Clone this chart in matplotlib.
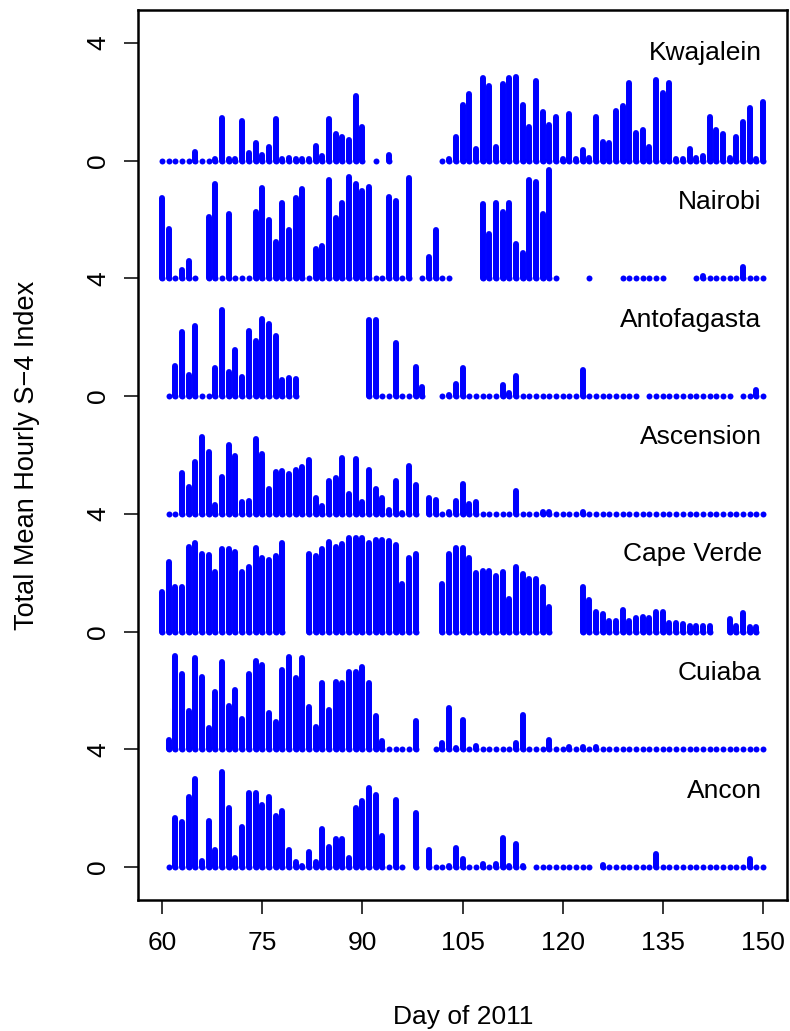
import numpy as np
import matplotlib
matplotlib.use("Agg")
import matplotlib.pyplot as plt

plt.rcParams['font.family'] = ['Liberation Sans', 'DejaVu Sans']

nan = np.nan
days = np.arange(60, 151)

# mean hourly S4 index per day, one list per station (nan = no data)
kwajalein = [0, 0, 0, 0, 0, 0.3, 0, 0, 0.05, 1.45,
             0.05, 0.05, 1.35, 0.25, 0.6, 0.2, 0.48, 1.4, 0.05, 0.1,
             0.05, 0.05, 0.05, 0.5, 0.15, 1.4, 0.9, 0.8, 0.7, 2.2,
             1.15, nan, 0, nan, 0.2, nan, nan, nan, nan, nan,
             nan, nan, 0, 0.05, 0.8, 1.9, 2.25, 0.4, 2.8, 2.55,
             0.45, 2.6, 2.8, 2.85, 1.9, 1.15, 2.7, 1.65, 1.2, 1.5,
             0.05, 1.6, 0.05, 0.35, 0.1, 1.5, 0.65, 0.6, 1.7, 1.85,
             2.65, 0.95, 1.05, 0.45, 2.75, 2.3, 2.65, 0.05, 0.05, 0.4,
             0.1, 0.15, 1.5, 1.05, 0.9, 0.1, 0.8, 1.3, 1.8, 0.05,
             2.0]
nairobi = [2.73, 1.68, 0, 0.29, 0.6, 0, nan, 2.1, 3.2, 0,
           2.2, 0, 0, 0, 2.25, 3.07, 2.0, 1.25, 2.55, 1.65,
           2.73, 3.03, 0, 1.0, 1.1, 3.33, 2.05, 2.57, 3.46, 3.21,
           2.98, 3.1, 0, 0, 2.75, 2.64, 0, 3.42, nan, 0,
           0.74, 1.66, 0, 0, nan, nan, nan, nan, 2.53, 1.52,
           2.55, 2.27, 2.55, 1.18, 0.88, 3.33, 3.26, 2.18, 3.67, 0,
           nan, nan, nan, nan, 0, nan, nan, nan, nan, 0,
           0, 0, 0, 0, 0, 0, nan, nan, nan, nan,
           0, 0.08, 0, 0, 0, 0, 0, 0.4, 0, 0,
           0]
antofagasta = [nan, 0, 1.02, 2.17, 0.71, 2.39, 0, 0, 0.95, 2.92,
               0.83, 1.57, 0.64, 2.2, 1.86, 2.63, 2.44, 2.05, 0.56, 0.61,
               0.59, nan, nan, nan, nan, nan, nan, nan, nan, nan,
               nan, 2.6, 2.6, 0, 0, 1.81, 0, 0, 1.0, 0.3,
               nan, nan, 0, 0.05, 0.4, 0.97, 0, 0, 0, 0,
               0, 0.37, 0.1, 0.68, 0, 0, 0, 0, 0, 0,
               0, 0, 0, 0.9, 0, 0, 0, 0, 0, 0,
               0, 0, nan, 0, 0, 0, 0, 0, 0, 0,
               0, 0, 0, 0, 0, 0, nan, 0, 0, 0.2,
               0]
ascension = [nan, 0, 0, 1.38, 0.92, 1.77, 2.6, 2.11, 0.3, 1.24,
             2.34, 1.95, 0.39, 0.44, 2.55, 2.02, 0.83, 1.43, 1.45, 1.36,
             1.49, 1.6, 1.82, 0.53, 0.28, 1.13, 1.22, 1.91, 0.69, 1.86,
             0.41, 1.49, 0.83, 0.53, 0.14, 1.13, 0.02, 1.63, 0.97, nan,
             0.53, 0.48, 0, 0.05, 0.44, 1.03, 0.34, 0.39, 0, 0,
             0, 0, 0, 0.76, 0, 0, 0, 0.05, 0.05, 0,
             0, 0, 0, 0.05, 0, 0, 0, 0, 0, 0,
             0, 0, 0, 0, 0, 0, 0, 0, 0, 0,
             0, 0, 0, 0, 0, 0, 0, 0, 0, 0,
             0]
cape_verde = [1.34, 2.35, 1.5, 1.5, 2.88, 3.0, 2.65, 2.6, 2.02, 2.79,
              2.79, 2.72, 2.02, 2.18, 2.84, 2.49, 2.44, 2.58, 3.0, nan,
              nan, nan, 2.65, 2.56, 2.79, 3.05, 2.86, 2.98, 3.19, 3.19,
              3.19, 3.02, 3.12, 3.12, 3.07, 2.93, 1.62, 2.51, 2.65, nan,
              nan, nan, 1.6, 2.65, 2.84, 2.84, 2.49, 2.0, 2.07, 2.07,
              1.9, 2.02, 1.11, 2.18, 1.97, 1.79, 1.79, 1.53, 0.83, nan,
              nan, nan, nan, 1.53, 1.08, 0.66, 0.6, 0.36, 0.36, 0.73,
              0.36, 0.46, 0.5, 0.46, 0.66, 0.66, 0.3, 0.3, 0.27, 0.2,
              0.2, 0.2, 0.2, nan, nan, 0.43, 0.2, 0.64, 0.15, 0.15,
              nan]
cuiaba = [nan, 0.3, 3.16, 2.57, 1.29, 3.09, 2.46, 0.73, 1.94, 2.95,
          1.47, 2.03, 1.03, 2.57, 2.99, 2.85, 1.25, 0.94, 2.71, 3.13,
          2.43, 3.11, 1.45, 0.75, 2.27, 1.33, 2.29, 2.25, 2.62, 2.62,
          2.78, 2.27, 1.12, 0.28, 0, 0, 0, 0, 0.96, nan,
          nan, 0, 0.23, 1.4, 0.05, 1.0, 0, 0.1, 0, 0,
          0, 0, 0, 0.23, 1.17, 0, 0, 0, 0.33, 0,
          0, 0.08, 0, 0.08, 0, 0.08, 0, 0, 0, 0,
          0, 0, 0, 0, 0, 0, 0, 0, 0, 0,
          0, 0, 0, 0, 0, 0, 0, 0, 0, 0,
          0]
ancon = [nan, 0, 1.66, 1.54, 2.39, 2.99, 0.21, 1.56, 0.57, 3.22,
         2.0, 0.32, 1.37, 2.51, 2.51, 2.11, 2.39, 1.72, 1.89, 0.57,
         0.18, 0.05, 0.5, 0.18, 1.29, 0.67, 0.94, 0.94, 0.32, 2.0,
         2.23, 2.69, 2.44, 1.06, 0, 2.28, 0, nan, 1.82, nan,
         0.57, 0, 0, 0.05, 0.64, 0.28, 0, 0, 0.1, 0,
         0.1, 0.99, 0.05, 0.78, 0.05, nan, 0, 0, 0, 0,
         0, 0, 0, 0, 0, nan, 0.08, 0, 0, 0,
         0, 0, 0, 0, 0.44, 0, 0, 0, 0, 0,
         0, 0, 0, 0, 0, 0, 0, 0, 0.28, 0,
         0]

stations = ["Kwajalein", "Nairobi", "Antofagasta", "Ascension",
            "Cape Verde", "Cuiaba", "Ancon"]
series = [kwajalein, nairobi, antofagasta, ascension, cape_verde, cuiaba, ancon]
offsets = [24, 20, 16, 12, 8, 4, 0]
label_y = [3.65, 2.6, 2.6, 2.6, 2.65, 2.6, 2.6]

fig = plt.figure(figsize=(7.9, 10.31), dpi=100)
ax = fig.add_axes([138 / 790, 131 / 1031, 649 / 790, 890 / 1031])

for name, vals, off, ly in zip(stations, series, offsets, label_y):
    v = np.array(vals, dtype=float)
    m = ~np.isnan(v)
    ax.vlines(days[m], off, off + v[m], colors='#0000ff', lw=4.3,
              capstyle='round')
    ax.plot(days[m], np.full(m.sum(), off), 'o', color='#0000ff',
            ms=4.3, mew=0)
    ax.text(149.8, off + ly, name, ha='right', va='center', fontsize=19)

ax.set_xlim(56.4, 153.6)
ax.set_ylim(-1.12, 29.12)
ax.set_xticks(np.arange(60, 151, 15))
ax.set_yticks(np.arange(0, 29, 4))
ax.set_yticklabels(['0', '4'] * 4, rotation=90, va='center')
ax.tick_params(length=10, width=1.1, labelsize=19)
ax.tick_params(axis='x', pad=12)
ax.tick_params(axis='y', pad=10)
for s in ax.spines.values():
    s.set_linewidth(1.8)

fig.text(463 / 790, 1 - 1017 / 1031, "Day of 2011", ha='center',
         va='center', fontsize=19)
fig.text(27 / 790, 1 - 455 / 1031, "Total Mean Hourly S\u22124 Index",
         ha='center', va='center', rotation=90, fontsize=19.5)

fig.savefig("out.png", dpi=100)
